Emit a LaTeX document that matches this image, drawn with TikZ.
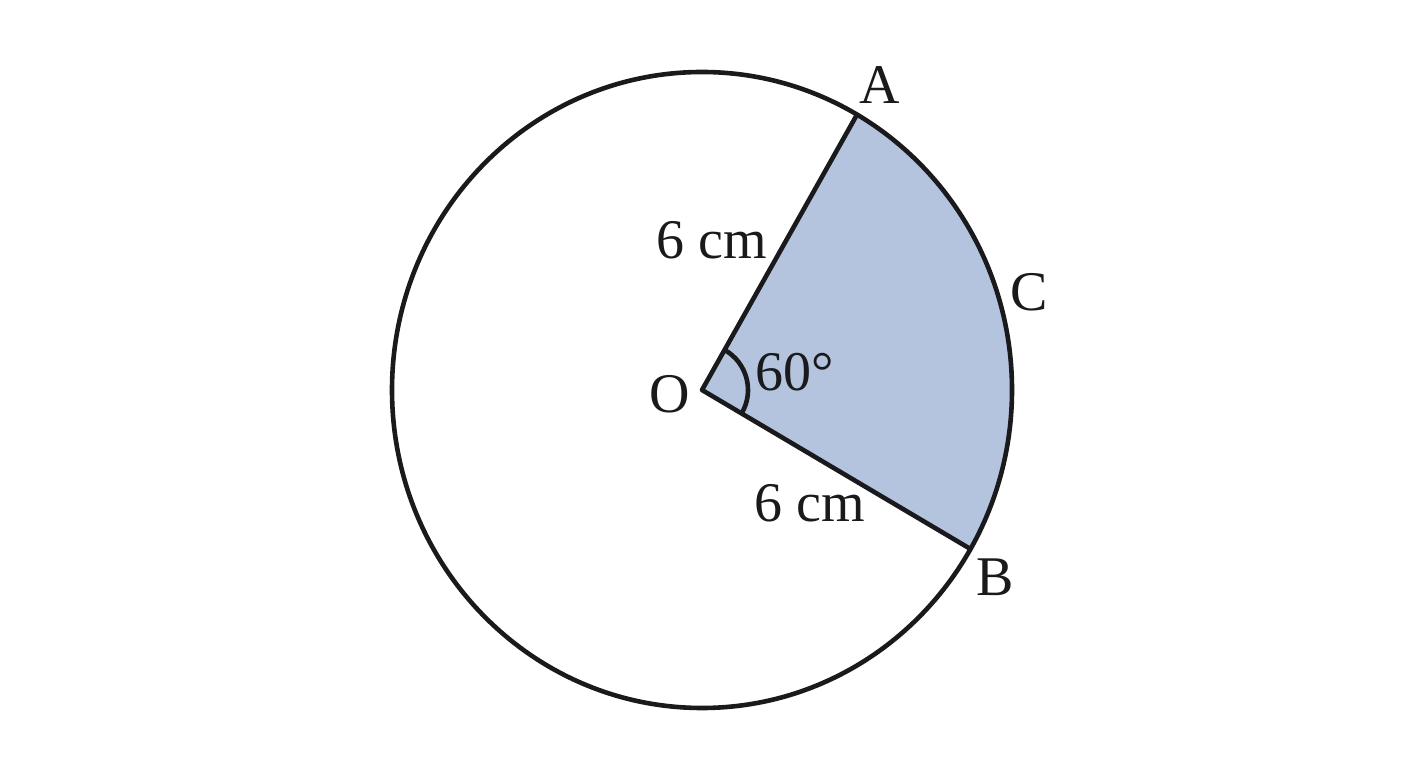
\documentclass[tikz,border=0pt]{standalone}
\usepackage{fontspec}
\setmainfont{Liberation Serif}
\usetikzlibrary{calc}
\definecolor{sectorblue}{RGB}{180,196,223}
\definecolor{ink}{RGB}{26,26,28}
\begin{document}
\begin{tikzpicture}[x=1pt,y=1pt,
  lbl/.style={inner sep=0pt,text=ink,font=\fontsize{56}{60}\selectfont},
  edge/.style={draw=ink,line width=4.6pt,line join=round}]
\useasboundingbox (0,0) rectangle (1408,768);
\fill[white] (0,0) rectangle (1408,768);
\coordinate (O) at (702,378);
\coordinate (A) at ($(O)+(60:310 and 318)$);
\coordinate (B) at ($(O)+(-30:310 and 318)$);
\fill[sectorblue] (O) -- (A) arc[start angle=60,end angle=-30,x radius=310,y radius=318] -- cycle;
\draw[edge] (O) ellipse[x radius=310,y radius=318];
\draw[edge] (A) -- (O) -- (B);
\draw[edge] ($(O)+(60:46)$) arc[start angle=60,end angle=-30,radius=46];
\node[lbl] (lA) at (880,683) {A};
\node[lbl] (lC) at (1029,476) {C};
\node[lbl] (lB) at (995,191) {B};
\node[lbl] (lO) at (670,374) {O};
\node[lbl] (ang) at (795,396) {60°};
\node[lbl] (r1) at (712,528) {6 cm};
\node[lbl] (r2) at (810,265) {6 cm};
\end{tikzpicture}
\end{document}
